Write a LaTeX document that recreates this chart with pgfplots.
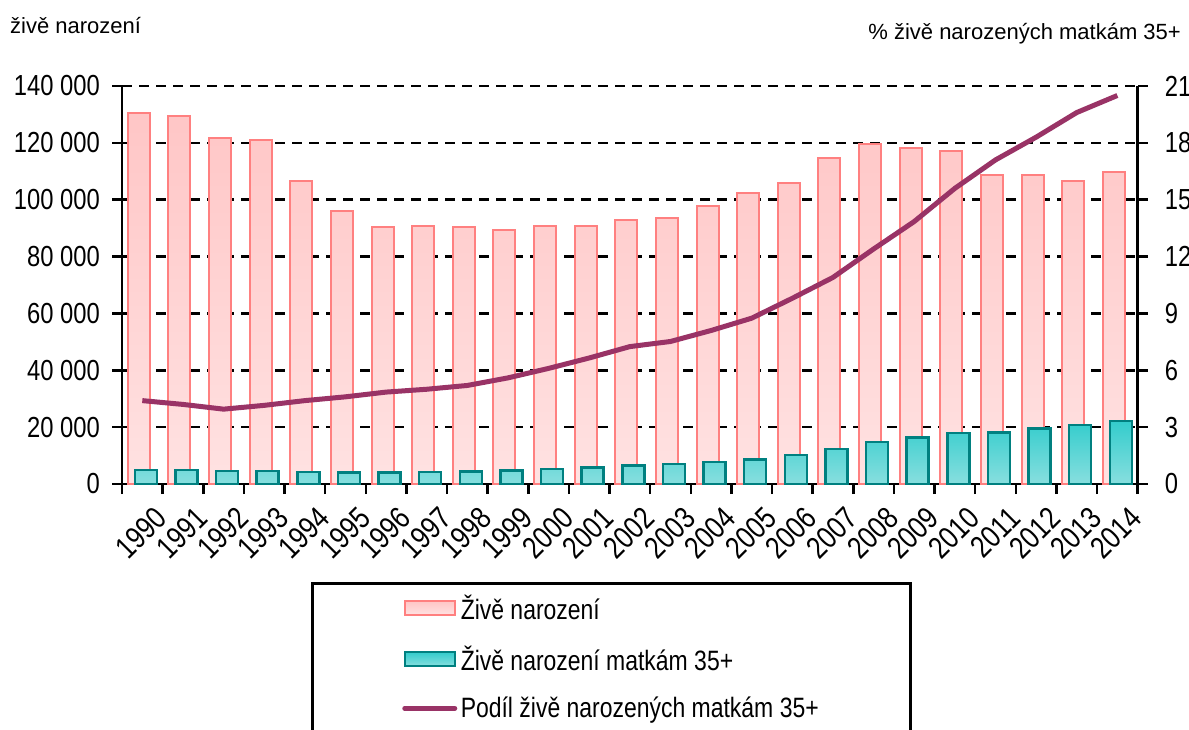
\documentclass[border=0pt]{standalone}
\usepackage{fontspec}
\setmainfont{Liberation Sans}
\newfontfamily\narrow[FakeStretch=0.82]{Liberation Sans}
\usepackage{pgfplots}
\pgfplotsset{compat=1.18}
\definecolor{pinkedge}{HTML}{FF8080}
\definecolor{pinktop}{HTML}{FFC6C6}
\definecolor{pinkbot}{HTML}{FFE2E2}
\definecolor{tealedge}{HTML}{008080}
\definecolor{tealtop}{HTML}{33CCCC}
\definecolor{tealbot}{HTML}{88DFDF}
\definecolor{plum}{HTML}{993366}
\begin{document}
\begin{tikzpicture}[x=1pt,y=1pt]
\useasboundingbox (0,0) rectangle (1189,-729);
\node[anchor=base west, inner sep=0pt, font=\fontsize{22}{26}\selectfont] at (10,-33) {živě narození};
\node[anchor=base east, inner sep=0pt, font=\fontsize{22}{26}\selectfont] at (1181,-39) {\% živě narozených matkám 35+};
\begin{axis}[
  at={(122pt,-484pt)}, anchor=south west,
  scale only axis, width=1015.7pt, height=398pt,
  xmin=-0.5, xmax=24.5, ymin=0, ymax=140000,
  scaled y ticks=false,
  axis x line*=bottom, axis y line*=left,
  axis line style={-, line width=2.5pt, black},
  tick align=outside,
  major tick length=10pt,
  every tick/.style={black, line width=2.5pt},
  ytick={0,20000,40000,60000,80000,100000,120000,140000},
  yticklabels={0,20 000,40 000,60 000,80 000,100 000,120 000,140 000},
  yticklabel style={font=\narrow\fontsize{29}{34}\selectfont, anchor=east, inner sep=0pt, xshift=-12pt},
  ymajorgrids,
  major grid style={black, line width=2.5pt, dash pattern=on 10pt off 7pt},
  xtick={-0.5,0.5,...,24.5}, xticklabels={},
  extra x ticks={0,1,...,24},
  extra x tick labels={1990,1991,1992,1993,1994,1995,1996,1997,1998,1999,2000,2001,2002,2003,2004,2005,2006,2007,2008,2009,2010,2011,2012,2013,2014},
  extra x tick style={major tick length=0pt, tick label style={rotate=45, anchor=north east, font=\narrow\fontsize{31}{36}\selectfont, inner sep=0pt, xshift=-7pt, yshift=-23pt}},
  ybar=-15pt, bar width=22pt,
]
\addplot[draw=pinkedge, line width=2pt, top color=pinktop, bottom color=pinkbot] coordinates {
(0,130564) (1,129354) (2,121705) (3,121025) (4,106579) (5,96097) (6,90446) (7,90657) (8,90535) (9,89471)
(10,90910) (11,90715) (12,92786) (13,93685) (14,97664) (15,102211) (16,105831) (17,114632) (18,119570) (19,118348)
(20,117153) (21,108673) (22,108576) (23,106751) (24,109860)};
\addplot[draw=tealedge, line width=2.5pt, top color=tealtop, bottom color=tealbot] coordinates {
(0,4850) (1,4850) (2,4500) (3,4600) (4,4250) (5,4050) (6,4050) (7,4250) (8,4400) (9,4700)
(10,5300) (11,5800) (12,6500) (13,7000) (14,7800) (15,8700) (16,10200) (17,12400) (18,14700) (19,16300)
(20,18000) (21,18200) (22,19500) (23,20800) (24,22200)};
\end{axis}
\begin{axis}[
  at={(122pt,-484pt)}, anchor=south west,
  scale only axis, width=1015.7pt, height=398pt,
  xmin=-0.5, xmax=24.5, ymin=0, ymax=21,
  hide x axis,
  axis y line*=right,
  axis line style={-, line width=2.5pt, black},
  tick align=outside,
  major tick length=10pt,
  every tick/.style={black, line width=2.5pt},
  ytick={0,3,6,9,12,15,18,21},
  /pgf/number format/assume math mode=true,
  yticklabel style={font=\narrow\fontsize{29}{34}\selectfont, anchor=west, inner sep=0pt, xshift=17pt},
  legend style={at={(0.1861,-0.2462)}, anchor=north west, draw=black, line width=2.5pt, fill=white,
    font=\narrow\fontsize{28}{33}\selectfont, inner xsep=90pt, inner ysep=10pt, row sep=21pt,
    cells={anchor=west}},
]
\addlegendimage{legend image code/.code={\draw[draw=pinkedge, line width=2pt, top color=pinktop, bottom color=pinkbot] (0pt,-7pt) rectangle (50pt,7pt); \path[draw=none, fill=none] (0pt,0pt) -- (54pt,0pt);}}
\addlegendentry{Živě narození}
\addlegendimage{legend image code/.code={\draw[draw=tealedge, line width=2.5pt, top color=tealtop, bottom color=tealbot] (0pt,-7pt) rectangle (50pt,7pt); \path[draw=none, fill=none] (0pt,0pt) -- (54pt,0pt);}}
\addlegendentry{Živě narození matkám 35+}
\addplot[plum, line width=5pt, line join=round, legend image code/.code={\draw[plum, line width=5pt, line cap=round] (0pt,0pt) -- (50pt,0pt); \path[draw=none, fill=none] (0pt,0pt) -- (54pt,0pt);}] coordinates {
(0,4.4) (1,4.2) (2,3.95) (3,4.15) (4,4.4) (5,4.6) (6,4.85) (7,5.0) (8,5.2) (9,5.6)
(10,6.1) (11,6.65) (12,7.25) (13,7.52) (14,8.1) (15,8.75) (16,9.8) (17,10.9) (18,12.4) (19,13.85)
(20,15.6) (21,17.1) (22,18.3) (23,19.6) (24,20.5)};
\addlegendentry{Podíl živě narozených matkám 35+}
\end{axis}
\end{tikzpicture}
\end{document}
